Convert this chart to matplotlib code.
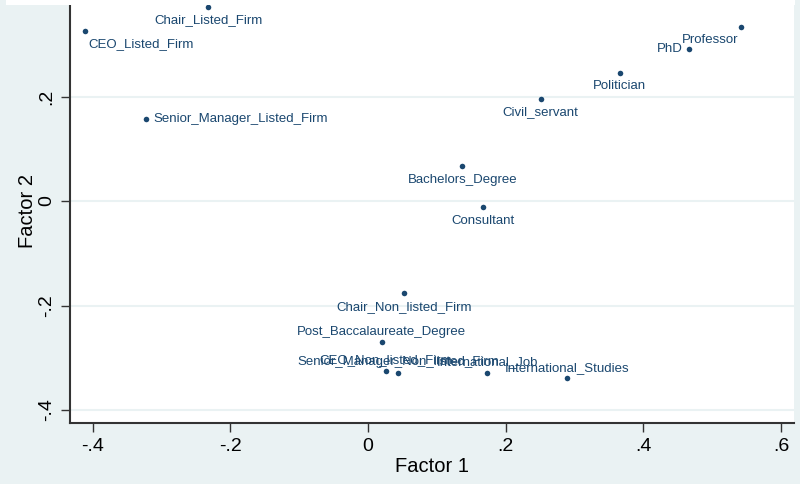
import matplotlib
matplotlib.use("Agg")
import matplotlib.pyplot as plt
from matplotlib.patches import Rectangle

labels = ["CEO_Listed_Firm", "Chair_Listed_Firm", "Senior_Manager_Listed_Firm",
          "Professor", "PhD", "Politician", "Civil_servant", "Bachelors_Degree",
          "Consultant", "Chair_Non_listed_Firm", "Post_Baccalaureate_Degree",
          "CEO_Non_listed_Firm", "Senior_Manager_Non_listed_Firm",
          "International_Job", "International_Studies"]
factor1 = [-0.411, -0.232, -0.322, 0.542, 0.466, 0.366, 0.251, 0.137,
           0.167, 0.052, 0.020, 0.026, 0.044, 0.173, 0.289]
factor2 = [0.325, 0.371, 0.157, 0.333, 0.291, 0.245, 0.195, 0.067,
           -0.011, -0.176, -0.270, -0.325, -0.329, -0.329, -0.339]
xticks = [-0.4, -0.2, 0, 0.2, 0.4, 0.6]
xticklabels = ["-.4", "-.2", "0", ".2", ".4", ".6"]
yticks = [-0.4, -0.2, 0, 0.2]
yticklabels = ["-.4", "-.2", "0", ".2"]

# label placement (offset in points, ha)
placement = {
    "CEO_Listed_Firm": ((2, -9.5), "left"),
    "Chair_Listed_Firm": ((0, -9.5), "center"),
    "Senior_Manager_Listed_Firm": ((5, 0), "left"),
    "Professor": ((-2, -9.5), "right"),
    "PhD": ((-4, 0), "right"),
    "Politician": ((0, -9.5), "center"),
    "Civil_servant": ((0, -9.5), "center"),
    "Bachelors_Degree": ((0, -10), "center"),
    "Consultant": ((0, -10), "center"),
    "Chair_Non_listed_Firm": ((0, -10), "center"),
    "Post_Baccalaureate_Degree": ((0, 7.5), "center"),
    "CEO_Non_listed_Firm": ((0, 8), "center"),
    "Senior_Manager_Non_listed_Firm": ((0, 8), "center"),
    "International_Job": ((0, 8), "center"),
    "International_Studies": ((0, 7.5), "center"),
}

plt.rcParams['font.family'] = ['Liberation Sans', 'DejaVu Sans']
bg = "#eaf2f3"
navy = "#1a476f"

fig = plt.figure(figsize=(8, 4.84), dpi=100, facecolor=bg)
fig.patches.append(Rectangle((6 / 800, 1 - 5 / 484), (795 - 6) / 800, 5 / 484,
                             transform=fig.transFigure, facecolor="white",
                             edgecolor="none", zorder=0))
ax = fig.add_axes([70 / 800, (484 - 423) / 484, (794 - 70) / 800, 423 / 484])
ax.set_facecolor("white")

ax.scatter(factor1, factor2, s=16, color=navy, marker="o", zorder=3, linewidths=0)
for lab, x, y in zip(labels, factor1, factor2):
    off, ha = placement[lab]
    ax.annotate(lab, (x, y), xytext=off, textcoords="offset points",
                ha=ha, va="center", fontsize=9.5, color=navy, zorder=4)

ax.set_xlim(-0.433, 0.619)
ax.set_ylim(-0.425, 0.385)
ax.set_xticks(xticks)
ax.set_xticklabels(xticklabels, fontsize=14)
ax.set_yticks(yticks)
ax.set_yticklabels(yticklabels, fontsize=14, rotation=90, va="center")
ax.tick_params(axis="both", direction="out", length=6.5, width=1, color="#333333",
               labelcolor="black", pad=4)
ax.yaxis.grid(True, color=bg, linewidth=1.5)
ax.set_axisbelow(True)
for s in ["top", "right"]:
    ax.spines[s].set_visible(False)
for s in ["left", "bottom"]:
    ax.spines[s].set_linewidth(1.5)
    ax.spines[s].set_color("#333333")

ax.set_xlabel("Factor 1", fontsize=14.5, labelpad=2)
ax.set_ylabel("Factor 2", fontsize=14.5, labelpad=1)

fig.savefig("out.png", dpi=100, facecolor=bg)
